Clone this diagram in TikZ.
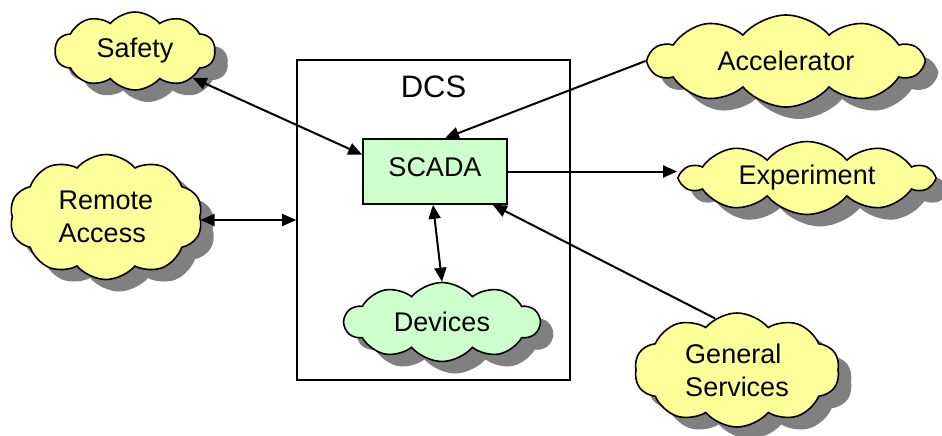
\documentclass[tikz,border=0pt]{standalone}
\usepackage{fontspec}
\setmainfont{Liberation Sans}
\usepackage{tikz}
\usetikzlibrary{shapes.symbols, shadows, arrows.meta}
\usetikzlibrary{positioning}
\definecolor{cloudyellow}{HTML}{FFFF99}
\definecolor{scadagreen}{HTML}{CCFFCC}
\definecolor{shadowgray}{HTML}{808080}
\tikzstyle{puff} = [cloud, cloud puffs=10, cloud puff arc=100, cloud ignores aspect, draw=black, line width=1.6pt, fill=cloudyellow, align=left, inner sep=0pt, font=\fontsize{27}{33}\selectfont, drop shadow={shadow xshift=13pt, shadow yshift=-12pt, fill=shadowgray, opacity=1}]
\tikzstyle{frame} = [rectangle, draw=black, line width=1.6pt]
\tikzstyle{arrow} = [line width=2pt, -{Triangle[length=14pt,width=12pt]}]
\tikzstyle{twoway} = [line width=2pt, {Triangle[length=14pt,width=12pt]}-{Triangle[length=14pt,width=12pt]}]

\begin{document}
\begin{tikzpicture}[x=1pt, y=-1pt]
    \useasboundingbox (0,0) rectangle (942,436);

    \node(dcs)[frame, minimum width=273pt, minimum height=320pt] at (433.5,220) {};
    \node(dcstext)[font=\fontsize{31}{36}\selectfont] at ([yshift=-28pt]dcs.north) {DCS};
    \node(scada)[frame, fill=scadagreen, minimum width=144pt, minimum height=65pt, text depth=8pt, font=\fontsize{27}{33}\selectfont] at (435,171.5) {SCADA};
    \node(devices)[puff, fill=scadagreen, minimum width=195pt, minimum height=79pt] at (442,322) {Devices};

    \node(safety)[puff, minimum width=160pt, minimum height=78pt] at (135,51) {Safety};
    \node(remote)[puff, minimum width=193pt, minimum height=125pt] at (106,217) {Remote\\Access};
    \node(accel)[puff, minimum width=273pt, minimum height=92pt] at (786,61) {Accelerator};
    \node(exp)[puff, minimum width=251pt, minimum height=73pt] at (807,178) {Experiment};
    \node(general)[puff, minimum width=205pt, minimum height=114pt] at (737,370) {General\\Services};

    \draw[twoway](safety.-25) -- (scada.167);
    \draw[twoway](remote.east |- dcs.west) -- (dcs.west);
    \draw[arrow](accel.west) -- ([xshift=10pt]scada.north);
    \draw[arrow](scada.east) -- (scada.east -| exp.west);
    \draw[arrow](general.113) -- ([xshift=-15pt]scada.south east);
    \draw[twoway]([xshift=-2pt]scada.south) -- (devices.north);
\end{tikzpicture}
\end{document}
